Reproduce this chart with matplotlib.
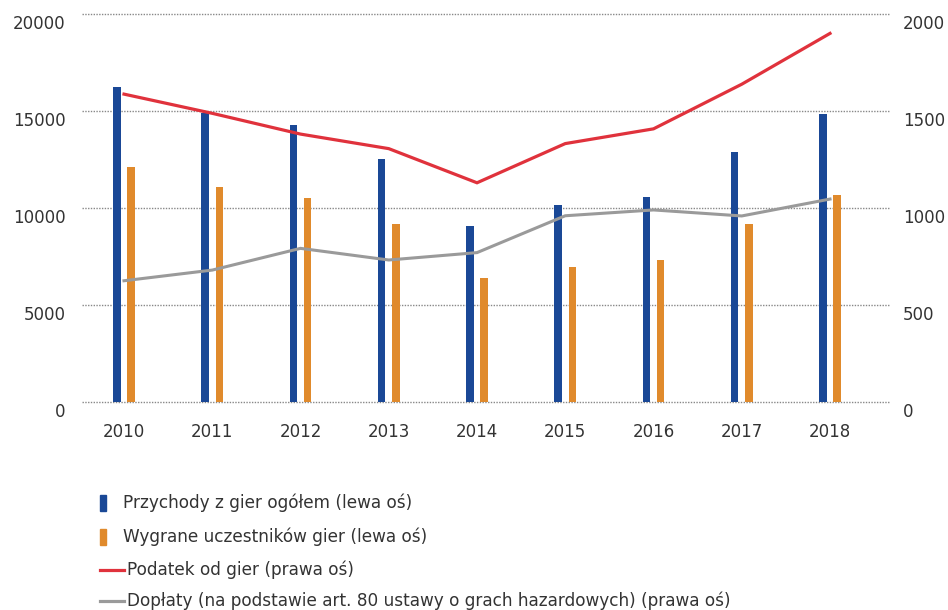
import matplotlib.pyplot as plt
from matplotlib.patches import Rectangle
from matplotlib.lines import Line2D
from matplotlib.transforms import ScaledTranslation
import numpy as np

years = ['2010', '2011', '2012', '2013', '2014', '2015', '2016', '2017', '2018']
przychody = [16220, 14880, 14280, 12530, 9050, 10140, 10560, 12900, 14850]
wygrane = [12130, 11070, 10520, 9180, 6400, 6980, 7320, 9180, 10690]
podatek = [1587, 1488, 1381, 1306, 1130, 1332, 1408, 1638, 1900]
doplaty = [625, 680, 792, 732, 770, 960, 990, 959, 1046]

labels = ['Przychody z gier ogółem (lewa oś)',
          'Wygrane uczestników gier (lewa oś)',
          'Podatek od gier (prawa oś)',
          'Dopłaty (na podstawie art. 80 ustawy o grach hazardowych) (prawa oś)']

blue = '#1a4896'
orange = '#e08a2c'
red = '#e0323c'
gray = '#9a9a9a'
txt = '#333333'
tick_font = ['DejaVu Sans']
leg_font = ['DejaVu Sans']

fig = plt.figure(figsize=(9.48, 6.10), dpi=100)
ax = fig.add_axes([82 / 948, 1 - 402 / 610, 808 / 948, 388 / 610])
ax2 = ax.twinx()
ax.set_zorder(ax2.get_zorder() - 1)
ax.patch.set_visible(True)
ax2.patch.set_visible(False)

x = np.arange(len(years))
w = 0.085
ax.bar(x - 0.08, przychody, width=w, color=blue, zorder=3)
ax.bar(x + 0.08, wygrane, width=w, color=orange, zorder=3)
ax2.plot(x, podatek, color=red, lw=2.3, solid_joinstyle='miter')
ax2.plot(x, doplaty, color=gray, lw=2.2, solid_joinstyle='miter')

ax.set_xlim(-0.476, 8.68)
ax.set_ylim(0, 20000)
ax2.set_ylim(0, 2000)
ax.set_yticks([0, 5000, 10000, 15000, 20000])
ax2.set_yticks([0, 500, 1000, 1500, 2000])
ax.set_xticks(x)
ax.set_xticklabels(years)

ax.yaxis.grid(True, linestyle=(0, (1, 1)), color='#888888', lw=1.0, zorder=0)
ax.set_axisbelow(True)
for gl in ax.get_ygridlines():
    gl.set_clip_on(False)

for a in (ax, ax2):
    for s in a.spines.values():
        s.set_visible(False)
ax.tick_params(axis='both', length=0, labelsize=12, colors=txt)
ax.tick_params(axis='y', pad=12)
ax.tick_params(axis='x', pad=15)
ax2.tick_params(axis='y', length=0, labelsize=12, colors=txt, pad=9.5)

# y labels sit a little below their grid lines
shift = ScaledTranslation(0, -8 / 100, fig.dpi_scale_trans)
for lab in ax.get_yticklabels() + ax2.get_yticklabels():
    lab.set_transform(lab.get_transform() + shift)
for lab in ax.get_xticklabels() + ax.get_yticklabels() + ax2.get_yticklabels():
    lab.set_family(tick_font)

# legend drawn by hand
W, H = 948, 610
rows = [503, 537, 570, 601]
for i, yy in enumerate(rows[:2]):
    c = blue if i == 0 else orange
    fig.add_artist(Rectangle((100 / W, 1 - (yy + 8) / H), 6 / W, 16 / H,
                             transform=fig.transFigure, color=c))
    fig.text(123 / W, 1 - yy / H, labels[i], va='center', ha='left',
             fontsize=12.2, color=txt, family=leg_font)
for i, yy in enumerate(rows[2:]):
    c = red if i == 0 else gray
    fig.add_artist(Line2D([100 / W, 124 / W], [1 - yy / H, 1 - yy / H],
                          transform=fig.transFigure, color=c, lw=2.3))
    fig.text(127 / W, 1 - yy / H, labels[i + 2], va='center', ha='left',
             fontsize=12.2, color=txt, family=leg_font)

fig.savefig('out.png', dpi=100)
